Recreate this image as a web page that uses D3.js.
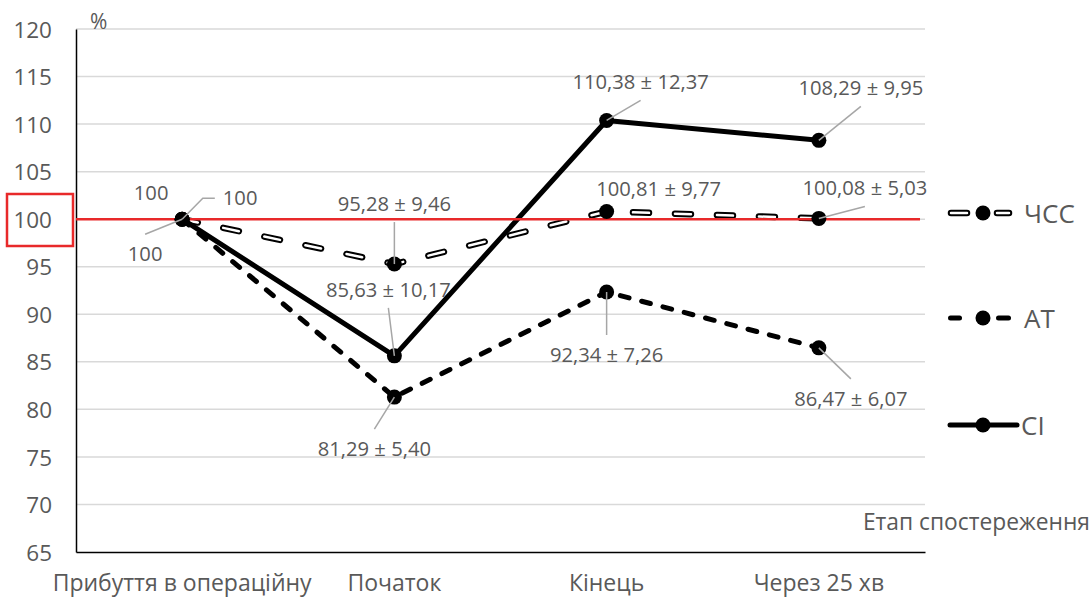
<!DOCTYPE html>
<html>
<head>
<meta charset="utf-8">
<script src="https://cdn.jsdelivr.net/npm/d3@7"></script>
<style>
  html, body { margin: 0; padding: 0; background: #fff; }
  svg { display: block; font-family: "Open Sans", sans-serif; }
</style>
</head>
<body>
<svg id="chart" width="1092" height="597"></svg>
<script>
// Observation stages
const stages = ["Прибуття в операційну", "Початок", "Кінець", "Через 25 хв"];

// Relative values, % of the arrival level
const hrValues = [100, 95.28, 100.81, 100.08];   // ЧСС
const bpValues = [100, 81.29, 92.34, 86.47];     // АТ
const ciValues = [100, 85.63, 110.38, 108.29];   // CI

// Point labels (mean ± SD)
const hrLabels = ["100", "95,28 ± 9,46", "100,81 ± 9,77", "100,08 ± 5,03"];
const bpLabels = ["100", "81,29 ± 5,40", "92,34 ± 7,26", "86,47 ± 6,07"];
const ciLabels = ["100", "85,63 ± 10,17", "110,38 ± 12,37", "108,29 ± 9,95"];

const seriesNames = ["ЧСС", "АТ", "CI"];
const yTicks = [65, 70, 75, 80, 85, 90, 95, 100, 105, 110, 115, 120];
const referenceLevel = 100;

// ---- layout ----
const W = 1092, H = 597;
const plot = { left: 76, right: 925, top: 29, bottom: 552 };
const textColor = "#595959";
const gridColor = "#d9d9d9";
const leaderColor = "#a6a6a6";

const svg = d3.select("#chart");

const x = d3.scaleBand().domain(stages).range([plot.left, plot.right]);
const cx = d => x(d) + x.bandwidth() / 2;
const y = d3.scaleLinear().domain([65, 120]).range([plot.bottom, plot.top]);

// gridlines
svg.append("g")
  .selectAll("line")
  .data(yTicks.filter(t => t > 65))
  .join("line")
  .attr("x1", plot.left).attr("x2", plot.right)
  .attr("y1", d => y(d)).attr("y2", d => y(d))
  .attr("stroke", gridColor).attr("stroke-width", 1.5);

// y axis
const yAxis = svg.append("g")
  .attr("transform", `translate(${plot.left},0)`)
  .call(d3.axisLeft(y).tickValues(yTicks).tickSize(0).tickPadding(24).tickFormat(d3.format("d")));
yAxis.select(".domain").attr("stroke", "#000").attr("stroke-width", 1.5);
yAxis.selectAll("text")
  .attr("fill", textColor)
  .style("font-family", "'Open Sans', sans-serif")
  .style("font-size", "22.5px")
  .attr("dy", "0.36em");

// x axis
const xAxis = svg.append("g")
  .attr("transform", `translate(0,${plot.bottom})`)
  .call(d3.axisBottom(x).tickSize(0).tickPadding(0));
xAxis.select(".domain").attr("stroke", "#000").attr("stroke-width", 1.5);
xAxis.selectAll("text")
  .attr("fill", textColor)
  .style("font-family", "'Open Sans', sans-serif")
  .style("font-size", "23px")
  .attr("dy", null)
  .attr("y", 39);

// axis titles
svg.append("text")
  .attr("x", 90).attr("y", 29)
  .attr("fill", textColor).style("font-size", "21px")
  .text("%");
svg.append("text")
  .attr("x", 1090).attr("y", 530)
  .attr("text-anchor", "end")
  .attr("fill", textColor).style("font-size", "22.8px")
  .text("Етап спостереження");

// ---- series ----
const line = d3.line().x((d, i) => cx(stages[i])).y(d => y(d));

function drawSeries(values, style) {
  const g = svg.append("g");
  if (style === "hollow") {
    g.append("path").attr("d", line(values))
      .attr("fill", "none").attr("stroke", "#000").attr("stroke-width", 6.5)
      .attr("stroke-linecap", "round").attr("stroke-dasharray", "16,26");
    g.append("path").attr("d", line(values))
      .attr("fill", "none").attr("stroke", "#fff").attr("stroke-width", 2.5)
      .attr("stroke-linecap", "round").attr("stroke-dasharray", "16,26");
  } else if (style === "dash") {
    g.append("path").attr("d", line(values))
      .attr("fill", "none").attr("stroke", "#000").attr("stroke-width", 5)
      .attr("stroke-linecap", "round").attr("stroke-dasharray", "9,13");
  } else {
    g.append("path").attr("d", line(values))
      .attr("fill", "none").attr("stroke", "#000").attr("stroke-width", 5)
      .attr("stroke-linejoin", "round");
  }
  return g;
}

drawSeries(hrValues, "hollow");
drawSeries(bpValues, "dash");
drawSeries(ciValues, "solid");

// reference level line
svg.append("line")
  .attr("x1", plot.left).attr("x2", 920)
  .attr("y1", y(referenceLevel)).attr("y2", y(referenceLevel))
  .attr("stroke", "#e8292a").attr("stroke-width", 2.5);

// markers
[hrValues, bpValues, ciValues].forEach(vals => {
  svg.append("g").selectAll("circle")
    .data(vals).join("circle")
    .attr("cx", (d, i) => cx(stages[i]))
    .attr("cy", d => y(d))
    .attr("r", 7.5)
    .attr("fill", "#000");
});

// highlight box around the 100 tick
svg.append("rect")
  .attr("x", 7).attr("y", 194).attr("width", 66).attr("height", 52)
  .attr("fill", "none").attr("stroke", "#e8292a").attr("stroke-width", 2.5);

// ---- point labels ----
// label placement relative to each marker: [dx, dy(baseline), leader: "up" | "down" | "elbow" | null]
const hrPlace = [[58, -14, "elbow"], [0, -53, "up"], [52, -15, null], [46, -23, "up"]];
const bpPlace = [[-37, 42, "down"], [-20, 59, "down"], [0, 70, "down"], [32, 58, "down"]];
const ciPlace = [[-31, -19, null], [-6, -59, "up"], [34, -31, "up"], [42, -45, "up"]];

function drawLabels(values, labels, place) {
  const g = svg.append("g");
  values.forEach((v, i) => {
    const mx = cx(stages[i]), my = y(v);
    const [dx, dy, leader] = place[i];
    const tx = mx + dx, ty = my + dy;
    const t = g.append("text")
      .attr("x", tx).attr("y", ty)
      .attr("text-anchor", "middle")
      .attr("fill", textColor)
      .style("font-size", "20.2px")
      .text(labels[i]);
    if (leader === "up") {
      g.append("line").attr("x1", tx).attr("y1", ty + 11).attr("x2", mx).attr("y2", my)
        .attr("stroke", leaderColor).attr("stroke-width", 1.5);
    } else if (leader === "down") {
      g.append("line").attr("x1", tx).attr("y1", ty - 27).attr("x2", mx).attr("y2", my)
        .attr("stroke", leaderColor).attr("stroke-width", 1.5);
    } else if (leader === "elbow") {
      const w = t.node().getComputedTextLength();
      const left = tx - w / 2;
      g.append("polyline")
        .attr("points", [[left - 8, ty - 7], [left - 20, ty - 7], [mx, my]].map(p => p.join(",")).join(" "))
        .attr("fill", "none").attr("stroke", leaderColor).attr("stroke-width", 1.5);
    }
  });
}

drawLabels(hrValues, hrLabels, hrPlace);
drawLabels(bpValues, bpLabels, bpPlace);
drawLabels(ciValues, ciLabels, ciPlace);

// ---- legend ----
const legendRows = [
  { name: seriesNames[0], style: "hollow", y: 213 },
  { name: seriesNames[1], style: "dash", y: 318 },
  { name: seriesNames[2], style: "solid", y: 425 }
];
const lg = svg.append("g");
legendRows.forEach(r => {
  if (r.style === "hollow") {
    [[948, 970], [994, 1012]].forEach(([a, b]) => {
      lg.append("line").attr("x1", a + 3).attr("x2", b - 3).attr("y1", r.y).attr("y2", r.y)
        .attr("stroke", "#000").attr("stroke-width", 6.5).attr("stroke-linecap", "round");
      lg.append("line").attr("x1", a + 3).attr("x2", b - 3).attr("y1", r.y).attr("y2", r.y)
        .attr("stroke", "#fff").attr("stroke-width", 2.5).attr("stroke-linecap", "round");
    });
  } else if (r.style === "dash") {
    [[948, 962], [996, 1011]].forEach(([a, b]) => {
      lg.append("line").attr("x1", a + 2.5).attr("x2", b - 2.5).attr("y1", r.y).attr("y2", r.y)
        .attr("stroke", "#000").attr("stroke-width", 5).attr("stroke-linecap", "round");
    });
  } else {
    lg.append("line").attr("x1", 950).attr("x2", 1017).attr("y1", r.y).attr("y2", r.y)
      .attr("stroke", "#000").attr("stroke-width", 5).attr("stroke-linecap", "round");
  }
  lg.append("circle").attr("cx", 983).attr("cy", r.y).attr("r", 7.5).attr("fill", "#000");
  lg.append("text")
    .attr("x", r.style === "solid" ? 1021 : 1024).attr("y", r.y + 9.5)
    .attr("fill", textColor).style("font-size", "26px")
    .text(r.name);
});
</script>
</body>
</html>
